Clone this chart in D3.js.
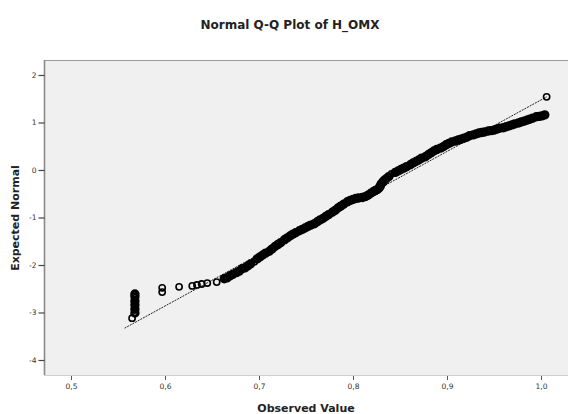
<!DOCTYPE html>
<html><head><meta charset="utf-8">
<script src="https://cdn.jsdelivr.net/npm/d3@7"></script>
<style>html,body{margin:0;padding:0;background:#fff;}svg{display:block;}</style>
</head><body>
<script>
const title = "Normal Q-Q Plot of H_OMX";
const xTitle = "Observed Value";
const yTitle = "Expected Normal";
const xTicks = [0.5, 0.6, 0.7, 0.8, 0.9, 1.0];
const xTickLabels = ["0,5", "0,6", "0,7", "0,8", "0,9", "1,0"];
const yTicks = [2, 1, 0, -1, -2, -3, -4];
const yTickLabels = ["2", "1", "0", "-1", "-2", "-3", "-4"];

const observed = [
  0.565, 0.568, 0.568, 0.568, 0.568, 0.568, 0.568, 0.597, 0.597, 0.615,
  0.629, 0.634, 0.639, 0.645, 0.655, 0.663,
  0.666, 0.669, 0.672, 0.676, 0.679, 0.682, 0.685, 0.688, 0.691, 0.695,
  0.698, 0.701, 0.704, 0.707, 0.711, 0.714, 0.717, 0.720, 0.723, 0.727,
  0.730, 0.733, 0.736, 0.739, 0.743, 0.746, 0.749, 0.752, 0.755, 0.759,
  0.762, 0.765, 0.768, 0.771, 0.774, 0.778, 0.781, 0.784, 0.787, 0.790,
  0.794, 0.797, 0.800, 0.803, 0.806, 0.810, 0.813, 0.816, 0.819, 0.822,
  0.824, 0.826, 0.828, 0.829, 0.830, 0.832, 0.833, 0.835, 0.838, 0.841,
  0.845, 0.848, 0.851, 0.854,
  0.857, 0.861, 0.864, 0.867, 0.870, 0.873, 0.877, 0.880, 0.883, 0.886,
  0.889, 0.893, 0.896, 0.899, 0.902, 0.905, 0.909, 0.912, 0.915, 0.918,
  0.921, 0.924, 0.928, 0.931, 0.934, 0.937, 0.940, 0.944, 0.947, 0.950,
  0.953, 0.956, 0.960, 0.963, 0.966, 0.969, 0.972, 0.976, 0.979, 0.982,
  0.985, 0.988, 0.991, 0.995, 0.998, 1.001, 1.004, 1.006
];
const expected = [
  -3.12, -3.01, -2.93, -2.84, -2.76, -2.67, -2.61, -2.57, -2.48, -2.46,
  -2.44, -2.42, -2.40, -2.38, -2.36, -2.29,
  -2.27, -2.23, -2.20, -2.16, -2.13, -2.08, -2.06, -2.02, -1.98, -1.93,
  -1.87, -1.83, -1.79, -1.75, -1.71, -1.66, -1.61, -1.57, -1.53, -1.47,
  -1.43, -1.39, -1.35, -1.32, -1.28, -1.25, -1.22, -1.19, -1.16, -1.13,
  -1.09, -1.05, -1.02, -0.98, -0.94, -0.89, -0.85, -0.80, -0.76, -0.72,
  -0.67, -0.64, -0.62, -0.60, -0.59, -0.58, -0.56, -0.53, -0.49, -0.45,
  -0.43, -0.41, -0.37, -0.34, -0.29, -0.25, -0.22, -0.19, -0.14, -0.08,
  -0.05, -0.02, 0.01, 0.04,
  0.07, 0.11, 0.15, 0.18, 0.21, 0.25, 0.28, 0.32, 0.36, 0.40,
  0.43, 0.46, 0.49, 0.53, 0.56, 0.59, 0.61, 0.63, 0.65, 0.67,
  0.69, 0.72, 0.74, 0.76, 0.78, 0.79, 0.80, 0.82, 0.83, 0.84,
  0.86, 0.88, 0.89, 0.91, 0.93, 0.95, 0.97, 0.99, 1.01, 1.03,
  1.05, 1.07, 1.09, 1.12, 1.13, 1.14, 1.16, 1.54
];
const refLineX = [0.557, 1.006];
const refLineY = [-3.33, 1.54];

const W = 568, H = 414;
const svg = d3.select("body").append("svg").attr("width", W).attr("height", H);

const pLeft = 44, pTop = 60, pRight = 568, pBottom = 375;
const x = d3.scaleLinear().domain([0.5, 1.0]).range([71, 541]);
const y = d3.scaleLinear().domain([-4, 2]).range([360, 75]);
const font = "DejaVu Sans, Verdana, sans-serif";

svg.append("rect").attr("x", pLeft).attr("y", pTop).attr("width", pRight - pLeft).attr("height", pBottom - pTop)
  .attr("fill", "#f0f0f0");
svg.append("line").attr("x1", pLeft).attr("x2", pRight).attr("y1", pTop + 0.5).attr("y2", pTop + 0.5)
  .attr("stroke", "#9a9a9a").attr("stroke-width", 1.2);
svg.append("line").attr("x1", pLeft).attr("x2", pRight).attr("y1", pBottom + 0.5).attr("y2", pBottom + 0.5)
  .attr("stroke", "#d0d0d0").attr("stroke-width", 1);

const yAxis = d3.axisLeft(y).tickValues(yTicks).tickSize(6).tickSizeOuter(0)
  .tickFormat((d, i) => yTickLabels[i]);
const gy = svg.append("g").attr("transform", `translate(${pLeft + 0.5},0)`).call(yAxis);
gy.select(".domain").attr("stroke", "#8a8a8a").attr("stroke-width", 1.6)
  .attr("d", `M0,${pTop}V${pBottom}`);
gy.selectAll(".tick line").attr("stroke", "#444").attr("stroke-width", 1.2);
gy.selectAll(".tick text").attr("font-family", font)
  .attr("font-size", 7.5).attr("fill", "#333").attr("x", -8);

const xAxis = d3.axisBottom(x).tickValues(xTicks).tickSize(4).tickSizeOuter(0)
  .tickFormat((d, i) => xTickLabels[i]);
const gx = svg.append("g").attr("transform", `translate(0,${pBottom + 1})`).call(xAxis);
gx.select(".domain").remove();
gx.selectAll(".tick line").attr("stroke", "#555").attr("stroke-width", 1);
gx.selectAll(".tick text").attr("font-family", font)
  .attr("font-size", 7.5).attr("fill", "#333").attr("y", 8);

svg.append("line")
  .attr("x1", x(refLineX[0])).attr("y1", y(refLineY[0]))
  .attr("x2", x(refLineX[1])).attr("y2", y(refLineY[1]))
  .attr("stroke", "#222").attr("stroke-width", 1).attr("stroke-dasharray", "2,1");

// points; where markers overlap densely they merge into a solid band
const pts = observed.map((d, i) => [x(d), y(expected[i])]);
const nearest = pts.map((p, i) => d3.min(pts, (q, j) => i === j ? Infinity : Math.hypot(p[0] - q[0], p[1] - q[1])));
svg.append("g").selectAll("circle").data(pts)
  .join("circle")
  .attr("cx", d => d[0]).attr("cy", d => d[1]).attr("r", 3.1)
  .attr("fill", "none").attr("stroke", "#000")
  .attr("stroke-width", (d, i) => nearest[i] < 3.9 ? 3.2 : 1.6);

svg.append("text").attr("x", 290).attr("y", 29).attr("text-anchor", "middle")
  .attr("font-family", font).attr("font-size", 12)
  .attr("font-weight", "bold").attr("fill", "#222").text(title);

svg.append("text").attr("x", 306).attr("y", 412).attr("text-anchor", "middle")
  .attr("font-family", font).attr("font-size", 11)
  .attr("font-weight", "bold").attr("fill", "#222").text(xTitle);

svg.append("text").attr("transform", "translate(19,218) rotate(-90)").attr("text-anchor", "middle")
  .attr("font-family", font).attr("font-size", 11)
  .attr("font-weight", "bold").attr("fill", "#222").text(yTitle);
</script>
</body></html>
